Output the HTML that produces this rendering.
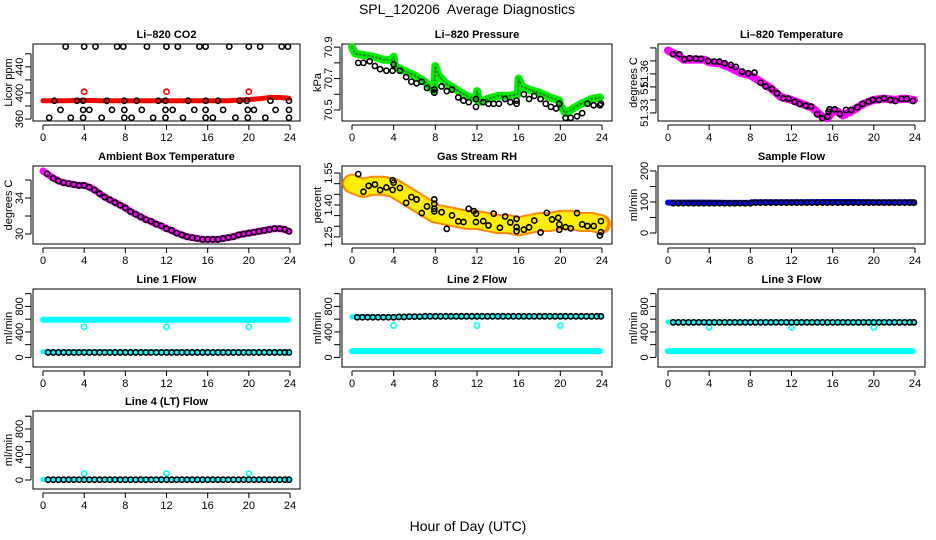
<!DOCTYPE html>
<html><head><meta charset="utf-8">
<style>
html,body{margin:0;padding:0;background:#fff;}
svg{display:block;font-family:"Liberation Sans",sans-serif;}
</style></head>
<body>
<svg id="chart" width="936" height="540" viewBox="0 0 936 540" xmlns="http://www.w3.org/2000/svg">
<rect width="936" height="540" fill="#fff"/>
<text x="467" y="14" text-anchor="middle" font-size="14">SPL_120206&#160; Average Diagnostics</text>
<text x="468" y="531" text-anchor="middle" font-size="14">Hour of Day (UTC)</text>
</svg>
<script>
// ---------- data ----------
const hourTicks = [0,4,8,12,16,20,24];
const H48 = [0.5,1,1.5,2,2.5,3,3.5,4,4.5,5,5.5,6,6.5,7,7.5,8,8.5,9,9.5,10,10.5,11,11.5,12,12.5,13,13.5,14,14.5,15,15.5,16,16.5,17,17.5,18,18.5,19,19.5,20,20.5,21,21.5,22,22.5,23,23.5,23.9];

// CO2
const co2Hours = [2.2,4,5.1,7.2,7.8,10.1,12,13.1,15.2,15.8,18.1,20,21.1,23.2,23.8, 1.1,3.3,3.9,6.2,7.9,9.1,11.2,11.9,14.1,15.8,17,19.1,19.8,22.1,23.9, 1.7,3.9,4.5,6.7,7.9,9.6,11.9,12.6,14.7,15.8,17.5,19.9,20.5,22.6,23.9, 0.6,2.7,3.9,5.7,7.9,8.6,10.7,11.9,13.6,15.8,16.5,18.7,19.9,21.6,23.9];
const co2Values = [471,471,471,471,471,471,471,471,471,471,471,471,471,471,471, 388,388,388,388,388,388,388,388,388,388,388,388,388,388,388, 374,374,374,374,374,374,374,374,374,374,374,374,374,374,374, 362,362,362,362,362,362,362,362,362,362,362,362,362,362,362];
const co2BandH = [0,2,4,6,8,10,12,14,16,18,19,20,21,22,23,23.9];
const co2BandV = [388,388,388.5,388,388,388,388,388,388,388,389,390,391,393,393,392];
const co2OutH = [4,12,20];
const co2OutV = [402,402,402];

// Pressure
const presBandH = [0,0.3,1,2,3,3.9,4,4.1,5,6,7,7.9,8,8.3,9,10,11,11.9,12,12.2,13,14,15,15.9,16,16.3,17,18,19,19.9,20,20.5,21,22,23,23.8];
const presBandV = [70.90,70.86,70.85,70.84,70.82,70.82,70.84,70.78,70.75,70.72,70.68,70.62,70.78,70.72,70.67,70.63,70.59,70.57,70.62,70.55,70.57,70.59,70.59,70.60,70.70,70.65,70.63,70.61,70.58,70.56,70.53,70.48,70.50,70.54,70.57,70.58];
const presHours = [0.6,1.1,1.7,2.2,2.7,3.3,3.9,4,4.6,5.2,5.7,6.2,6.7,7.2,7.9,7.9,8.6,9.1,9.6,10.2,10.7,11.2,11.9,11.9,12.6,13.1,13.6,14.1,14.7,15.2,15.8,15.8,16.5,17,17.5,18.1,18.6,19.1,19.6,19.9,20.5,21,21.6,22.1,22.6,23.2,23.8,23.9];
const presValues = [70.80,70.80,70.81,70.78,70.76,70.75,70.75,70.79,70.75,70.71,70.68,70.67,70.68,70.64,70.61,70.63,70.65,70.62,70.63,70.58,70.56,70.55,70.52,70.57,70.55,70.54,70.54,70.54,70.57,70.55,70.54,70.56,70.60,70.57,70.59,70.57,70.54,70.52,70.51,70.54,70.45,70.45,70.46,70.48,70.54,70.53,70.53,70.54];

// Li-820 temperature
const ltBandH = [0,0.5,1,1.5,2,3,3.5,4,5,6,7,8,9,10,11,12,13,14,15,15.5,16,16.5,17,18,19,20,21,22,23,23.9];
const ltBandV = [51.378,51.376,51.374,51.371,51.371,51.371,51.371,51.369,51.368,51.365,51.361,51.359,51.354,51.349,51.342,51.340,51.337,51.334,51.327,51.326,51.331,51.331,51.328,51.332,51.337,51.340,51.341,51.340,51.341,51.340];
const ltHours = [0.5,1.1,1.6,2.1,2.7,3.2,3.9,4.5,5,5.5,6.1,6.6,7.2,7.8,8.4,9,9.5,10.1,10.6,11.2,11.7,12.3,12.8,13.4,13.9,14.5,15,15.5,15.6,15.7,16.2,16.7,17.3,17.8,18.4,18.9,19.5,19.9,20.5,21,21.6,22.1,22.7,23.2,23.8];
const ltValues = [51.3751,51.3751,51.3713,51.3721,51.3718,51.3715,51.3700,51.3695,51.3695,51.3682,51.3669,51.3654,51.3618,51.3605,51.3610,51.3533,51.3503,51.3485,51.3451,51.3413,51.3410,51.3385,51.3369,51.3356,51.3349,51.3290,51.3259,51.3272,51.3310,51.3328,51.3328,51.3292,51.3323,51.3323,51.3344,51.3369,51.3387,51.3400,51.3400,51.3413,51.3400,51.3392,51.3408,51.3408,51.3392];

// Ambient box temperature
const ambBandH = [0,0.4,1,1.5,2,2.5,3,3.5,4,4.5,5,5.5,6,6.5,7,7.5,8,8.5,9,9.5,10,10.5,11,11.5,12,12.5,13,13.5,14,14.5,15,15.5,16,16.5,17,17.5,18,18.5,19,19.5,20,20.5,21,21.5,22,22.5,23,23.5,23.9];
const ambBandV = [37.0,36.7,36.2,35.9,35.7,35.6,35.5,35.4,35.4,35.2,34.9,34.5,34.1,33.8,33.5,33.2,32.9,32.5,32.2,31.9,31.6,31.4,31.1,30.9,30.6,30.4,30.1,29.9,29.7,29.6,29.5,29.4,29.4,29.4,29.4,29.5,29.6,29.7,29.9,30.0,30.1,30.2,30.3,30.4,30.5,30.6,30.6,30.5,30.3];
const ambHours = [0.4,1,1.5,2,2.5,3,3.5,4,4.5,5,5.5,6,6.5,7,7.5,8,8.5,9,9.5,10,10.5,11,11.5,12,12.5,13,13.5,14,14.5,15,15.5,16,16.5,17,17.5,18,18.5,19,19.5,20,20.5,21,21.5,22,22.5,23,23.5,23.9];
const ambValues = [36.7,36.2,35.9,35.7,35.6,35.5,35.4,35.4,35.2,34.9,34.5,34.1,33.8,33.5,33.2,32.9,32.5,32.2,31.9,31.6,31.4,31.1,30.9,30.6,30.4,30.1,29.9,29.7,29.6,29.5,29.4,29.4,29.4,29.4,29.5,29.6,29.7,29.9,30.0,30.1,30.2,30.3,30.4,30.5,30.6,30.6,30.5,30.3];

// Gas stream RH
const rhBandH = [0,1,2,3,4,5,6,7,8,9,10,11,12,13,14,15,16,17,18,19,20,21,22,23,23.9];
const rhBandV = [1.50,1.48,1.49,1.49,1.48,1.45,1.42,1.39,1.36,1.35,1.34,1.33,1.33,1.32,1.31,1.31,1.30,1.31,1.32,1.32,1.33,1.33,1.32,1.32,1.31];
const rhHours = [0.6,1.1,1.6,2.2,2.7,3.3,3.9,3.9,4.0,4.6,5.2,5.7,6.2,6.7,7.2,7.9,7.9,7.9,7.9,8.6,9.1,9.6,10.2,10.7,11.2,11.7,11.9,11.9,12.6,13.1,13.6,14.2,14.7,15.2,15.8,15.8,15.8,16.5,17,17.5,18.1,18.7,19.2,19.8,19.9,19.9,20.5,21,21.6,22.1,22.6,23.2,23.8,23.9,23.9];
const rhValues = [1.545,1.462,1.490,1.496,1.470,1.482,1.471,1.516,1.505,1.480,1.410,1.437,1.426,1.362,1.393,1.370,1.426,1.406,1.382,1.366,1.288,1.351,1.323,1.320,1.382,1.371,1.359,1.320,1.324,1.304,1.359,1.293,1.346,1.318,1.335,1.296,1.277,1.284,1.295,1.327,1.271,1.363,1.332,1.340,1.309,1.284,1.296,1.290,1.362,1.309,1.301,1.301,1.257,1.324,1.272];

// Sample flow
const sfBandH = [0,2,4,6,8,8.1,12,16,18,20,22,23.9];
const sfBandV = [98,98,98,97,97,99,99,100,100,99,99,99];
const sfValues = [96,96,96,96,96,96,96,96,96,96,96,96,96,96,96,96,98,98,98,98,98,98,98,98,98,98,98,98,98,98,98,98,98,98,98,98,98,98,98,98,98,98,98,98,98,98,98,98];

// Line flows
const l1UpperH = [0,23.8];
const l1UpperV = [590,590];
const l1LowerH = [0,23.9];
const l1LowerV = [90,90];
const l1Values = [78,78,78,78,78,78,78,78,78,78,78,78,78,78,78,78,78,78,78,78,78,78,78,78,78,78,78,78,78,78,78,78,78,78,78,78,78,78,78,78,78,78,78,78,78,78,78,78];
const l1OutH = [4,12,20];
const l1OutV = [480,480,480];

const l2UpperH = [0,23.9];
const l2UpperV = [635,640];
const l2LowerH = [0,23.8];
const l2LowerV = [100,100];
const l2Values = [630,630,630,630,630,630,630,630,635,635,640,640,640,645,645,645,645,645,645,645,645,645,645,645,645,645,645,645,645,645,645,645,645,645,645,645,645,645,645,645,645,645,645,645,645,645,645,645];
const l2OutH = [4,12,20];
const l2OutV = [500,500,500];

const l3UpperH = [0,23.9];
const l3UpperV = [555,560];
const l3LowerH = [0,23.8];
const l3LowerV = [100,100];
const l3Values = [550,550,550,550,550,550,550,550,550,550,550,550,550,550,550,550,550,550,550,550,550,550,550,550,550,550,550,550,550,550,550,550,550,550,550,550,550,550,550,550,550,550,550,550,550,550,550,550];
const l3OutH = [4,12,20];
const l3OutV = [470,470,470];

const l4BandH = [0,23.9];
const l4BandV = [8,8];
const l4Values = [5,5,5,5,5,5,5,5,5,5,5,5,5,5,5,5,5,5,5,5,5,5,5,5,5,5,5,5,5,5,5,5,5,5,5,5,5,5,5,5,5,5,5,5,5,5,5,5];
const l4OutH = [4,12,20];
const l4OutV = [100,100,100];

// ---------- layout ----------
const NS = "http://www.w3.org/2000/svg";
const svg = document.getElementById('chart');
const cols = [{l:33,r:300},{l:342,r:612},{l:658,r:925}];
const rows = [{t:44,b:121},{t:166,b:244},{t:289,b:367},{t:411,b:489}];

function mk(tag, attrs, parent){
  const e = document.createElementNS(NS, tag);
  for (const k in attrs) e.setAttribute(k, attrs[k]);
  (parent||svg).appendChild(e);
  return e;
}

function panel(slug, title, c, r, ymin, ymax, yticks, ylabels, ylab){
  const box = cols[c], rw = rows[r];
  const g = mk('g', {});
  
  
  const X = h => box.l + 10 + h * (box.r - box.l - 20) / 24;
  const Y = v => rw.b - (v - ymin) / (ymax - ymin) * (rw.b - rw.t);
  const t = mk('text', {x:(box.l+box.r)/2, y:rw.t-6, 'text-anchor':'middle', 'font-size':11, 'font-weight':'bold'}, g);
  t.textContent = title;
  
  
  const fr = mk('rect', {x:box.l, y:rw.t, width:box.r-box.l, height:rw.b-rw.t, fill:'none', stroke:'#000', 'stroke-width':1}, g);
  
  
  // x axis
  const xa = mk('g', {}, g);
  
  
  mk('line', {x1:X(hourTicks[0]), x2:X(hourTicks[hourTicks.length-1]), y1:rw.b+4, y2:rw.b+4, stroke:'#000'}, xa);
  hourTicks.forEach(h => {
    mk('line', {x1:X(h), x2:X(h), y1:rw.b+4, y2:rw.b+9, stroke:'#000'}, xa);
    const tl = mk('text', {x:X(h), y:rw.b+20, 'text-anchor':'middle', 'font-size':11}, xa);
    tl.textContent = h;
  });
  // y axis
  const ya = mk('g', {}, g);
  
  
  const ax = box.l - 2;
  mk('line', {x1:ax, x2:ax, y1:Y(yticks[0]), y2:Y(yticks[yticks.length-1]), stroke:'#000'}, ya);
  yticks.forEach((v,i) => {
    mk('line', {x1:ax-6, x2:ax, y1:Y(v), y2:Y(v), stroke:'#000'}, ya);
    if (ylabels[i]) {
      const tl = mk('text', {x:0, y:0, 'text-anchor':'middle', 'font-size':11, transform:`translate(${box.l-10},${Y(v)}) rotate(-90)`}, ya);
      tl.textContent = ylabels[i];
    }
  });
  const yl = mk('text', {x:0, y:0, 'text-anchor':'middle', 'font-size':11, transform:`translate(${box.l-21},${(rw.t+rw.b)/2}) rotate(-90)`}, g);
  yl.textContent = ylab;
  
  
  return {g, X, Y};
}

function band(p, name, hs, vs, color, width){
  const pts = hs.map((h,i) => p.X(h).toFixed(1) + ',' + p.Y(vs[i]).toFixed(1)).join(' ');
  const pl = mk('polyline', {points:pts, fill:'none', stroke:color, 'stroke-width':width, 'stroke-linejoin':'round', 'stroke-linecap':'round'}, p.g);
  
  
  return pl;
}
function pts(p, name, hs, vs, color){
  const gg = mk('g', {}, p.g);
  
  
  hs.forEach((h,i) => {
    const c = mk('circle', {cx:p.X(h), cy:p.Y(vs[i]), r:2.6, fill:'none', stroke:color, 'stroke-width':1.6}, gg);
    
    
  });
}

// CO2
let p = panel('co2', 'Li\u2013820 CO2', 0, 0, 357, 475, [360,380,400,420,440,460], ['360','','400','','440',''], 'Licor ppm');
band(p, 'co2-band', co2BandH, co2BandV, '#ff0000', 5);
pts(p, 'co2-outliers', co2OutH, co2OutV, '#ff0000');
pts(p, 'co2-averages', co2Hours, co2Values, '#000');

// Pressure
p = panel('pressure', 'Li\u2013820 Pressure', 1, 0, 70.43, 70.92, [70.5,70.6,70.7,70.8,70.9], ['70.5','','70.7','','70.9'], 'kPa');
band(p, 'pressure-band', presBandH, presBandV, '#00ee00', 8);
band(p, 'pressure-band-texture', presBandH, presBandV, '#228822', 2).setAttribute('stroke-dasharray','1 3');
pts(p, 'pressure-averages', presHours, presValues, '#000');

// Li-820 temperature
p = panel('li820-temp', 'Li\u2013820 Temperature', 2, 0, 51.3238, 51.383, [51.33,51.34,51.35,51.36,51.37,51.38], ['51.33','','51.','51.36','',''], 'degrees C');
band(p, 'li820-temp-band', ltBandH, ltBandV, '#ff00ff', 8);
pts(p, 'li820-temp-averages', ltHours, ltValues, '#000');

// Ambient
p = panel('ambient-temp', 'Ambient Box Temperature', 0, 1, 28.89, 37.56, [30,32,34,36], ['30','','34',''], 'degrees C');
band(p, 'ambient-temp-band', ambBandH, ambBandV, '#ff00ff', 7);
pts(p, 'ambient-temp-averages', ambHours, ambValues, '#000');

// RH
p = panel('gas-rh', 'Gas Stream RH', 1, 1, 1.2167, 1.583, [1.25,1.30,1.35,1.40,1.45,1.50,1.55], ['1.25','','','1.40','','','1.55'], 'percent');
band(p, 'gas-rh-band', rhBandH, rhBandV, '#ff8800', 20);
band(p, 'gas-rh-band-texture', rhBandH, rhBandV, '#ffee00', 16).setAttribute('stroke-dasharray','2 2');
pts(p, 'gas-rh-averages', rhHours, rhValues, '#000');

// Sample flow
p = panel('sample-flow', 'Sample Flow', 2, 1, -35.5, 216, [0,50,100,150,200], ['0','','100','','200'], 'ml/min');
band(p, 'sample-flow-band', sfBandH, sfBandV, '#0000ff', 6);
pts(p, 'sample-flow-averages', H48, sfValues, '#000');

const flowTicks = [0,200,400,600,800,1000];
const flowLabels = ['0','','400','','800',''];
p = panel('line1-flow', 'Line 1 Flow', 0, 2, -150, 1073, flowTicks, flowLabels, 'ml/min');
band(p, 'line1-flow-upper-band', l1UpperH, l1UpperV, '#00ffff', 6);
band(p, 'line1-flow-lower-band', l1LowerH, l1LowerV, '#00ffff', 5);
pts(p, 'line1-flow-outliers', l1OutH, l1OutV, '#00ffff');
pts(p, 'line1-flow-averages', H48, l1Values, '#000');

p = panel('line2-flow', 'Line 2 Flow', 1, 2, -150, 1073, flowTicks, flowLabels, 'ml/min');
band(p, 'line2-flow-upper-band', l2UpperH, l2UpperV, '#00ffff', 5);
band(p, 'line2-flow-lower-band', l2LowerH, l2LowerV, '#00ffff', 6);
pts(p, 'line2-flow-outliers', l2OutH, l2OutV, '#00ffff');
pts(p, 'line2-flow-averages', H48, l2Values, '#000');

p = panel('line3-flow', 'Line 3 Flow', 2, 2, -150, 1073, flowTicks, flowLabels, 'ml/min');
band(p, 'line3-flow-upper-band', l3UpperH, l3UpperV, '#00ffff', 5);
band(p, 'line3-flow-lower-band', l3LowerH, l3LowerV, '#00ffff', 6);
pts(p, 'line3-flow-outliers', l3OutH, l3OutV, '#00ffff');
pts(p, 'line3-flow-averages', H48, l3Values, '#000');

p = panel('line4-flow', 'Line 4 (LT) Flow', 0, 3, -141, 1082, flowTicks, flowLabels, 'ml/min');
band(p, 'line4-flow-band', l4BandH, l4BandV, '#00ffff', 5);
pts(p, 'line4-flow-outliers', l4OutH, l4OutV, '#00ffff');
pts(p, 'line4-flow-averages', H48, l4Values, '#000');
</script>
</body></html>
